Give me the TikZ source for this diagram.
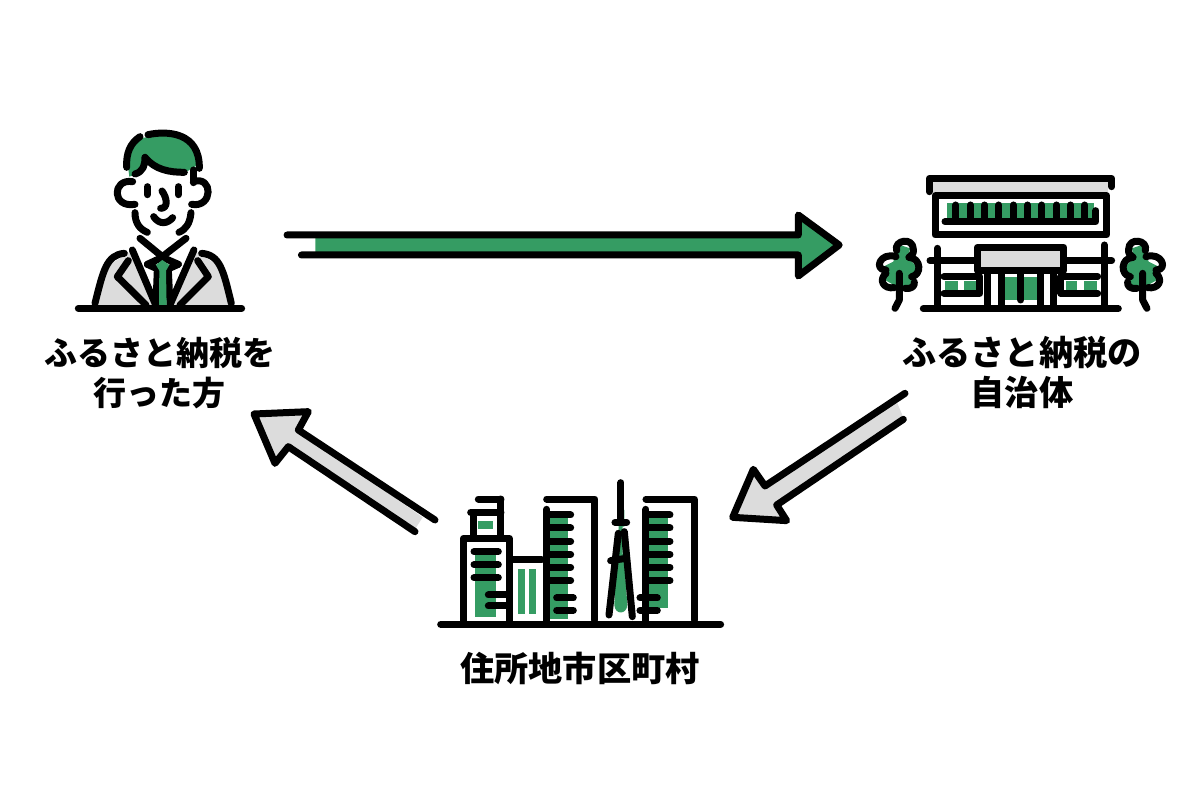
\documentclass[tikz,border=0pt]{standalone}
\usepackage{fontspec}
\setmainfont{Noto Sans CJK JP}
\definecolor{leaf}{HTML}{359C63}
\definecolor{panel}{HTML}{DCDCDC}
\tikzset{
  ink/.style={draw=black,line width=7pt,line cap=round,line join=round},
  leaffill/.style={fill=leaf,draw=none},
  panelfill/.style={fill=panel,draw=none},
  caption/.style={font=\fontsize{#1}{40}\selectfont\bfseries,text=black,inner sep=0pt,align=center,text depth=0pt},
  local/.style 2 args={shift={(#1,#2)},x=0.3333pt,y=-0.3333pt}
}
% one tree, trunk on the right of the crown's left lobe
\newcommand{\parktree}{
  \fill[leaffill] (120,255)--(150,265)--(145,295)--(170,320)--(170,350)--(150,375)--(110,380)--(75,360)--(70,320)--(100,305)--(110,270)--cycle;
  \draw[ink] (110,272) .. controls (100,240) and (160,230) .. (160,268) .. controls (162,280) and (155,288) .. (147,292);
  \draw[ink] (147,292) .. controls (185,295) and (185,345) .. (155,350);
  \draw[ink] (108,290) .. controls (60,275) and (40,330) .. (78,330);
  \draw[ink] (78,340) .. controls (55,360) and (70,388) .. (103,383);
  \draw[ink] (135,385) .. controls (155,388) and (165,378) .. (163,366);
  \draw[ink] (118,340) -- (118,420) -- (105,445);
}
\begin{document}
\begin{tikzpicture}[x=1pt,y=-1pt]
\useasboundingbox (0,0) rectangle (1200,800);

% captions
\node[caption=33] (giver) at (160,371) {ふるさと納税を\\行った方};
\node[caption=34.2] (town) at (1022,371) {ふるさと納税の\\自治体};
\node[caption=34.2] (home) at (580,667) {住所地市区町村};

% block arrows
\begin{scope}[local={270}{200},x=0.3787pt]
  \fill[leaffill] (120,105)--(1395,105)--(1395,45)--(1503,135)--(1395,228)--(1395,165)--(120,165)--cycle;
  \draw[ink] (45,105)--(1395,105)--(1395,45)--(1503,135)--(1395,228)--(1395,165)--(83,165);
\end{scope}
\begin{scope}[local={720}{380}]
  \fill[panelfill] (530,65)--(135,318)--(100,268)--(38,412)--(200,422)--(170,375)--(550,112)--cycle;
  \draw[ink] (555,40)--(135,318)--(100,268)--(38,412)--(200,422)--(170,375)--(550,118);
\end{scope}
\begin{scope}[local={240}{400}]
  \fill[panelfill] (548,352)--(175,90)--(205,35)--(42,42)--(105,190)--(145,140)--(525,388)--cycle;
  \draw[ink] (585,360)--(175,90)--(205,35)--(42,42)--(105,190)--(145,140)--(525,395);
\end{scope}

% person
\begin{scope}[local={60}{110}]
  \fill[leaffill] (208,200)--(200,140)--(240,85)--(330,70)--(400,110)--(412,165)--(380,185)--(300,178)--(260,140)--(235,190)--cycle;
  \fill[panelfill] (108,588)--(140,470)--(200,432)--(215,425)--(285,588)--cycle;
  \fill[panelfill] (512,588)--(480,470)--(420,432)--(400,425)--(335,588)--cycle;
  \draw[ink] (240,80) .. controls (210,100) and (198,130) .. (200,172);
  \draw[ink] (264,74) .. controls (320,62) and (420,65) .. (418,175);
  \draw[ink] (225,192) .. controls (250,185) and (255,165) .. (255,142) .. controls (285,180) and (330,187) .. (373,187);
  \draw[ink] (400,180) -- (400,218);
  \draw[ink] (400,215) .. controls (460,195) and (460,295) .. (395,283);
  \draw[ink] (218,215) .. controls (155,205) and (155,295) .. (225,283);
  \draw[ink] (262,230) -- (262,254);
  \draw[ink] (355,230) -- (355,254);
  \draw[ink] (306,243) .. controls (322,265) and (325,295) .. (302,295);
  \draw[ink] (281,320) .. controls (298,345) and (322,342) .. (338,323);
  \draw[ink] (225,308) .. controls (225,340) and (240,358) .. (262,367);
  \draw[ink] (393,308) .. controls (390,340) and (378,358) .. (357,367);
  \draw[ink] (240,385) -- (307,440) -- (378,385);
  \draw[ink] (217,420) -- (285,580);
  \draw[ink] (402,420) -- (332,580);
  \draw[ink] (193,430) .. controls (140,435) and (130,480) .. (105,580);
  \draw[ink] (425,430) .. controls (480,435) and (490,480) .. (514,580);
  \draw[ink] (205,452) -- (172,500) -- (258,585);
  \draw[ink] (413,452) -- (445,500) -- (360,585);
  \draw[ink] (262,463) -- (307,442) -- (355,463);
  \draw[ink] (262,463) -- (295,478);
  \draw[ink] (355,463) -- (322,478);
  % tie: black edges with the green blade and knot over them
  \draw[ink] (292,480) -- (288,585);
  \draw[ink] (325,480) -- (330,585);
  \fill[leaffill] (298,480)--(318,480)--(320,590)--(297,590)--cycle;
  \fill[leaffill] (288,465)--(307,450)--(328,465)--(318,482)--(298,482)--cycle;
  \draw[ink] (55,595) -- (545,595);
\end{scope}

% town hall
\begin{scope}[local={860}{160}]
  \fill[panelfill] (218,66)--(745,66)--(745,98)--(218,98)--cycle;
  \fill[panelfill] (360,272)--(602,272)--(602,325)--(360,325)--cycle;
  \fill[leaffill] (262,130)--(702,130)--(702,178)--(262,178)--cycle;
  \fill[leaffill] (435,350)--(530,350)--(530,420)--(435,420)--cycle;
  \fill[leaffill] (255,362)--(293,362)--(293,390)--(255,390)--cycle;
  \fill[leaffill] (313,362)--(350,362)--(350,390)--(313,390)--cycle;
  \fill[leaffill] (617,362)--(650,362)--(650,390)--(617,390)--cycle;
  \fill[leaffill] (672,362)--(710,362)--(710,390)--(672,390)--cycle;
  \draw[ink] (208,95)--(208,55)--(755,55)--(755,80);
  \draw[ink] (225,107)--(740,107)--(740,225)--(225,225)--cycle;
  \foreach \bx in {288,331,374,417,460,503,546,589,632,675}
    \draw[ink] (\bx,135) -- (\bx,180);
  \draw[ink] (255,185)--(708,185)--(708,152);
  \draw[ink] (232,265)--(232,440);
  \draw[ink] (733,255)--(733,440);
  \draw[ink] (210,302)--(352,302);
  \draw[ink] (612,302)--(755,302);
  \draw[ink] (352,262)--(612,262)--(612,332)--(352,332)--cycle;
  \foreach \bx in {383,424,541,580}
    \draw[ink] (\bx,335) -- (\bx,445);
  \draw[ink] (483,340)--(483,420);
  \draw[ink] (252,350)--(360,350)--(360,400)--(252,400);
  \draw[ink] (713,350)--(603,350)--(603,400)--(713,400);
  \draw[ink] (190,446)--(775,446);
  \parktree
  \begin{scope}[xshift=966*0.3333pt,xscale=-1]
    \parktree
  \end{scope}
\end{scope}

% city blocks
\begin{scope}[local={430}{470}]
  \fill[leaffill] (143,153)--(190,153)--(190,178)--(143,178)--cycle;
  \fill[leaffill] (135,250)--(198,250)--(198,440)--(135,440)--cycle;
  \fill[leaffill] (265,298)--(285,298)--(285,432)--(265,432)--cycle;
  \fill[leaffill] (298,298)--(318,298)--(318,432)--(298,432)--cycle;
  \fill[leaffill] (360,145)--(415,145)--(415,448)--(360,448)--cycle;
  \fill[leaffill] (658,145)--(715,145)--(715,415)--(658,415)--cycle;
  \fill[leaffill] (565,120)--(583,120)--(583,170)--(578,170)--(578,250)--(585,300)--(592,405) .. controls (590,435) and (555,435) .. (553,405)--(558,300)--(566,200)--cycle;
  \draw[ink] (100,455)--(100,205)--(238,205)--(238,455);
  \draw[ink] (130,130)--(130,200);
  \draw[ink] (213,87)--(213,200);
  \draw[ink] (145,87)--(213,87);
  \draw[ink] (122,127)--(213,127);
  \foreach \by in {245,284,323}
    \draw[ink] (132,\by) -- (205,\by);
  \draw[ink] (175,375)--(235,375);
  \draw[ink] (175,408)--(235,408);
  \draw[ink] (248,270)--(335,270);
  \draw[ink] (350,118)--(350,455);
  \draw[ink] (350,87)--(495,87)--(495,450);
  \foreach \by in {135,174,214,253,292,332}
    \draw[ink] (355,\by) -- (422,\by);
  \draw[ink] (380,384)--(430,384);
  \draw[ink] (380,421)--(430,421);
  \draw[ink] (573,38)--(573,150);
  \draw[ink] (565,190)--(537,435);
  \draw[ink] (583,185)--(607,440);
  \draw[ink] (555,157)--(590,157);
  \draw[ink] (542,272)--(588,265);
  \draw[ink] (648,118)--(648,455);
  \draw[ink] (648,87)--(793,87)--(793,450);
  \foreach \by in {135,174,214,253,292,332}
    \draw[ink] (653,\by) -- (720,\by);
  \draw[ink] (630,384)--(682,384);
  \draw[ink] (630,421)--(682,421);
  \draw[ink] (32,463)--(872,463);
\end{scope}
\end{tikzpicture}
\end{document}
